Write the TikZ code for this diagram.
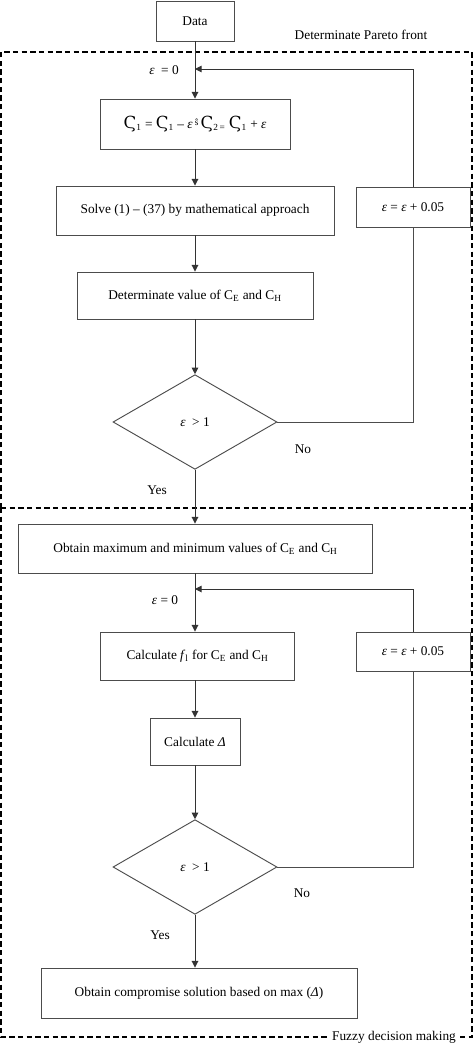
\documentclass[tikz,border=0pt]{standalone}
\usepackage{fontspec}
\setmainfont{Liberation Serif}
\newfontfamily\stigfont{DejaVu Serif}
\usepackage{tikz}
\usetikzlibrary{shapes.geometric,arrows.meta,positioning,calc}

\newcommand{\epsi}{{\itshape ε}}
\newcommand{\stig}{{\stigfont\fontsize{12.5}{12}\selectfont Ϛ}}

\begin{document}
\begin{tikzpicture}[x=0.75pt,y=-0.75pt,
    block/.style={rectangle, draw=black!70, line width=0.7pt, align=center, inner sep=2pt, font=\fontsize{10}{12}\selectfont},
    decision/.style={diamond, draw=black!70, line width=0.7pt, aspect=1.75, inner sep=0pt, minimum width=123pt, minimum height=71pt, font=\fontsize{10}{12}\selectfont},
    lbl/.style={inner sep=1pt, font=\fontsize{10}{12}\selectfont},
    arrow/.style={-{Triangle[length=5pt,width=5pt]}, draw=black!80, line width=0.7pt},
    line/.style={draw=black!70, line width=0.7pt},
    frame/.style={draw=black, line width=1.3pt, dash pattern=on 4pt off 2.5pt}
  ]
    \useasboundingbox (0,0) rectangle (474,1043);

    % dashed frames
    \draw[frame] (1,508) -- (1,52) -- (472,52) -- (472,508);
    \draw[frame] (1,508) -- (472,508);
    \draw[frame] (1,508) -- (1,1037) -- (472,1037) -- (472,508);

    % Pareto front part
    \node[block, minimum width=58.5pt, minimum height=30pt] (data) at (195,21) {Data};
    \node[lbl] (pareto) at (361,35) {Determinate Pareto front};
    \coordinate (join1) at (195,69);
    \node[lbl] (eps1) at (164,70) {\epsi\ \ = 0};
    \node[block, minimum width=142.5pt, minimum height=37.5pt] (s1) at (195,124)
      {\stig\textsubscript{1} = \stig\textsubscript{1} – \epsi\,\raisebox{2pt}{\scriptsize ŝ}\,\stig\textsubscript{2\,=} \stig\textsubscript{1} + \epsi};
    \node[block, minimum width=208.5pt, minimum height=36.75pt] (solve) at (195,210.5) {Solve (1) – (37) by mathematical approach};
    \node[block, minimum width=85.5pt, minimum height=30pt] (inc1) at (413,207) {\epsi\ = \epsi\ + 0.05};
    \node[block, minimum width=177pt, minimum height=35.25pt] (det) at (195,295.5) {Determinate value of C\textsubscript{E} and C\textsubscript{H}};
    \node[decision] (dia1) at (195,422) {\epsi\ \ > 1};
    \node[lbl] (no1) at (303,449) {No};
    \node[lbl] (yes1) at (157,490) {Yes};

    \draw[arrow] (data) -- (s1);
    \draw[arrow] (s1) -- (solve);
    \draw[arrow] (solve) -- (det);
    \draw[arrow] (det) -- (dia1);
    \draw[line] (dia1.east) -| (inc1.south);
    \draw[arrow] (inc1.north) |- (join1);

    % fuzzy decision part
    \node[block, minimum width=266pt, minimum height=36.75pt] (maxmin) at (195.5,548.5) {Obtain maximum and minimum values of C\textsubscript{E} and C\textsubscript{H}};
    \coordinate (join2) at (195,589);
    \node[lbl] (eps2) at (165,600) {\epsi\ = 0};
    \node[block, minimum width=146pt, minimum height=36pt] (calcf) at (197.5,656) {Calculate \textit{f}\textsubscript{l} for C\textsubscript{E} and C\textsubscript{H}};
    \node[block, minimum width=85.5pt, minimum height=29.25pt] (inc2) at (413,651.5) {\epsi\ = \epsi\ + 0.05};
    \node[block, minimum width=67.5pt, minimum height=35.25pt] (calcd) at (195,741.5) {Calculate {\itshape Δ}};
    \node[decision] (dia2) at (195,867) {\epsi\ \ > 1};
    \node[lbl] (no2) at (302,893) {No};
    \node[lbl] (yes2) at (160,935) {Yes};
    \node[block, minimum width=237pt, minimum height=37.5pt] (final) at (199,993) {Obtain compromise solution based on max ({\itshape Δ})};
    \node[lbl, fill=white, inner xsep=3pt] (fuzzy) at (394,1037) {Fuzzy decision making};

    \draw[arrow] (dia1.south) -- (dia1.south |- maxmin.north);
    \draw[arrow] (maxmin.south -| join2) -- (join2 |- calcf.north);
    \draw[arrow] (join2 |- calcf.south) -- (calcd);
    \draw[arrow] (calcd) -- (dia2);
    \draw[line] (dia2.east) -| (inc2.south);
    \draw[arrow] (inc2.north) |- (join2);
    \draw[arrow] (dia2.south) -- (dia2.south |- final.north);
  \end{tikzpicture}
\end{document}
